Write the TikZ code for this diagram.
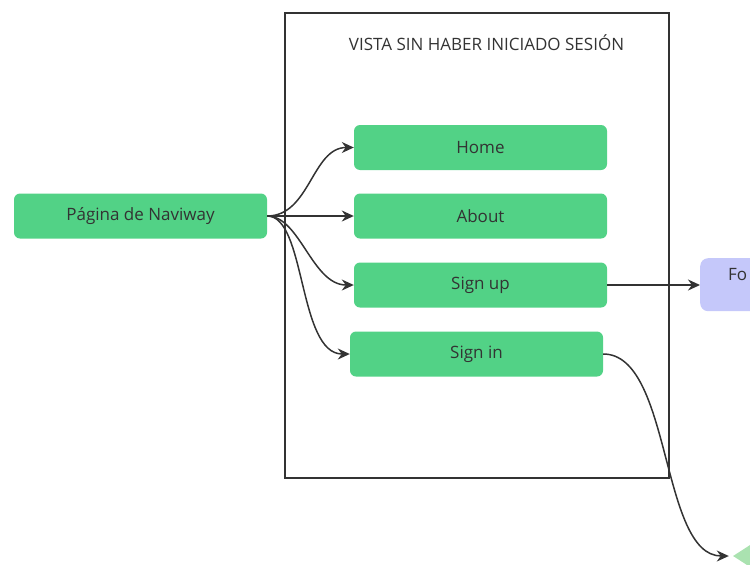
\documentclass[tikz,border=0pt]{standalone}
\usepackage{fontspec}
\setmainfont{Open Sans}
\usetikzlibrary{shapes.geometric,arrows.meta}
\definecolor{boxgreen}{RGB}{82,210,134}
\definecolor{formblue}{RGB}{197,200,250}
\definecolor{decgreen}{RGB}{170,226,176}
\definecolor{ink}{RGB}{51,51,51}
\tikzset{
  label/.style={font=\fontsize{17}{19}\selectfont, text=ink},
  page/.style={rectangle, rounded corners=6pt, fill=boxgreen, minimum width=253pt,
    minimum height=45pt, inner sep=0pt, label},
  form/.style={rectangle, rounded corners=8pt, fill=formblue, minimum width=110pt,
    minimum height=53pt, inner sep=0pt},
  flow/.style={draw=ink, line width=1.5pt, -{Stealth[length=12pt,width=11pt]}},
  frame/.style={draw=ink, line width=1.3pt}
}
\begin{document}
\begin{tikzpicture}[x=1pt,y=-1pt]
\useasboundingbox (0,0) rectangle (750,565);
\begin{scope}
\clip (0,0) rectangle (750,565);
% container of the logged-out view
\draw[frame] (285,13) rectangle (669,478);
\node[label] (title) at (486.5,42.5) {VISTA SIN HABER INICIADO SESIÓN};

\node[page] (naviway) at (140.5,216) {Página de Naviway};
\node[page] (home)   at (480.5,147.5) {Home};
\node[page] (about)  at (480.5,216) {About};
\node[page] (signup) at (480.5,285) {Sign up};
\node[page] (signin) at (476.5,354) {Sign in};

\node[form, anchor=north west] (formulario) at (700,258) {};
\node[label, anchor=west, inner sep=0pt] (formtext) at (728,275) {Fo};

\node[diamond, fill=decgreen, minimum width=130pt, minimum height=84pt, inner sep=0pt] (decision) at (798,556) {};

\draw[flow] (naviway.east) .. controls (310,216) and (312,147.5) .. (home.west);
\draw[flow] (naviway.east) -- (about.west);
\draw[flow] (naviway.east) .. controls (300,216) and (312,285) .. (signup.west);
\draw[flow] (naviway.east) .. controls (306,216) and (298,354) .. (signin.west);
\draw[flow] (signup.east) -- (formulario.west |- signup.east);
\draw[flow, shorten >=4pt] (signin.east) .. controls (672,354) and (660,556) .. (decision.west);
\end{scope}
\end{tikzpicture}
\end{document}
